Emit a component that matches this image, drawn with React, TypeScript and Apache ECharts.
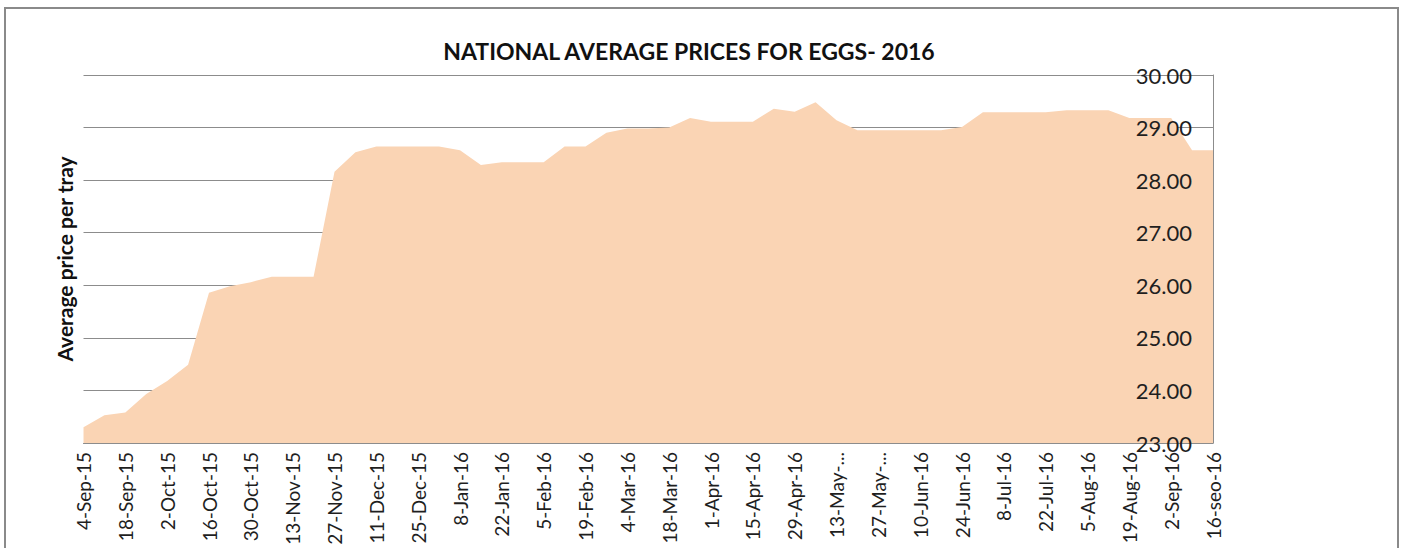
import React, { useEffect, useRef } from "react";
import * as echarts from "echarts";

const titleText = "NATIONAL AVERAGE PRICES FOR EGGS- 2016";
const yAxisName = "Average price per tray";

const categories = [
  "4-Sep-15", "11-Sep-15", "18-Sep-15", "25-Sep-15", "2-Oct-15", "9-Oct-15",
  "16-Oct-15", "23-Oct-15", "30-Oct-15", "6-Nov-15", "13-Nov-15", "20-Nov-15",
  "27-Nov-15", "4-Dec-15", "11-Dec-15", "18-Dec-15", "25-Dec-15", "1-Jan-16",
  "8-Jan-16", "15-Jan-16", "22-Jan-16", "29-Jan-16", "5-Feb-16", "12-Feb-16",
  "19-Feb-16", "26-Feb-16", "4-Mar-16", "11-Mar-16", "18-Mar-16", "25-Mar-16",
  "1-Apr-16", "8-Apr-16", "15-Apr-16", "22-Apr-16", "29-Apr-16", "6-May-16",
  "13-May-16", "20-May-16", "27-May-16", "3-Jun-16", "10-Jun-16", "17-Jun-16",
  "24-Jun-16", "1-Jul-16", "8-Jul-16", "15-Jul-16", "22-Jul-16", "29-Jul-16",
  "5-Aug-16", "12-Aug-16", "19-Aug-16", "26-Aug-16", "2-Sep-16", "9-Sep-16",
  "16-seo-16",
];

const prices = [
  23.30, 23.53, 23.58, 23.93, 24.18, 24.49,
  25.86, 25.98, 26.06, 26.16, 26.16, 26.16,
  28.16, 28.53, 28.64, 28.64, 28.64, 28.64,
  28.57, 28.29, 28.34, 28.34, 28.34, 28.64,
  28.64, 28.90, 28.98, 28.98, 29.00, 29.18,
  29.11, 29.11, 29.11, 29.36, 29.30, 29.48,
  29.14, 28.95, 28.95, 28.95, 28.95, 28.95,
  29.01, 29.29, 29.29, 29.29, 29.29, 29.33,
  29.33, 29.33, 29.18, 29.18, 29.18, 28.57,
  28.57,
];

// labels as they are shown (truncated) on the axis
const shownLabels: Record<string, string> = {
  "13-May-16": "13-May-...",
  "27-May-16": "27-May-...",
};

const yMin = 23;
const yMax = 30;
const yStep = 1;

export default function App() {
  const ref = useRef<HTMLDivElement>(null);

  useEffect(() => {
    if (!ref.current) return;
    const chart = echarts.init(ref.current, null, { renderer: "svg" });
    const font = "Lato, 'Open Sans', sans-serif";
    const gray = "#8c8c8c";
    chart.setOption({
      animation: false,
      backgroundColor: "#ffffff",
      title: {
        text: titleText,
        left: 684,
        top: 34,
        textAlign: "center",
        textStyle: {
          fontFamily: font,
          fontWeight: "bold",
          fontSize: 23,
          color: "#111111",
        },
      },
      grid: {
        left: 83.5,
        right: 190,
        top: 75,
        bottom: 105,
        containLabel: false,
      },
      xAxis: {
        type: "category",
        data: categories,
        boundaryGap: false,
        z: 10,
        axisLine: { show: true, lineStyle: { color: gray, width: 1 } },
        axisTick: { show: false },
        axisLabel: {
          interval: 1,
          rotate: 90,
          margin: 9,
          fontFamily: font,
          fontSize: 19,
          color: "#1f1f1f",
          formatter: (v: string) => shownLabels[v] ?? v,
        },
        splitLine: { show: false },
      },
      yAxis: [
        {
          type: "value",
          position: "right",
          min: yMin,
          max: yMax,
          interval: yStep,
          z: 0,
          axisLine: { show: false },
          axisTick: { show: false },
          axisLabel: { show: false },
          splitLine: { show: true, lineStyle: { color: gray, width: 1 } },
        },
        {
          type: "value",
          position: "right",
          min: yMin,
          max: yMax,
          interval: yStep,
          z: 10,
          axisLine: { show: true, lineStyle: { color: gray, width: 1 } },
          axisTick: { show: false },
          axisLabel: {
            inside: true,
            margin: 21,
            fontFamily: font,
            fontSize: 22,
            color: "#1f1f1f",
            formatter: (v: number) => v.toFixed(2),
          },
          splitLine: { show: false },
        },
      ],
      series: [
        {
          type: "line",
          yAxisIndex: 0,
          data: prices,
          symbol: "none",
          lineStyle: { width: 0 },
          areaStyle: { color: "#FAD4B4", opacity: 1, origin: "start" },
          z: 2,
        },
      ],
      graphic: [
        {
          type: "rect",
          silent: true,
          z: -10,
          shape: { x: 5, y: 8, width: 1393, height: 700 },
          style: { fill: "none", stroke: "#8a8a8a", lineWidth: 2 },
        },
        {
          type: "text",
          x: 64,
          y: 259,
          rotation: Math.PI / 2,
          style: {
            text: yAxisName,
            fontFamily: font,
            fontWeight: "bold",
            fontSize: 21,
            fill: "#111111",
            textAlign: "center",
            textVerticalAlign: "middle",
          },
        },
      ],
    });
    return () => chart.dispose();
  }, []);

  return (
    <div
      ref={ref}
      style={{ position: "fixed", left: 0, top: 0, width: 1403, height: 548 }}
    />
  );
}
